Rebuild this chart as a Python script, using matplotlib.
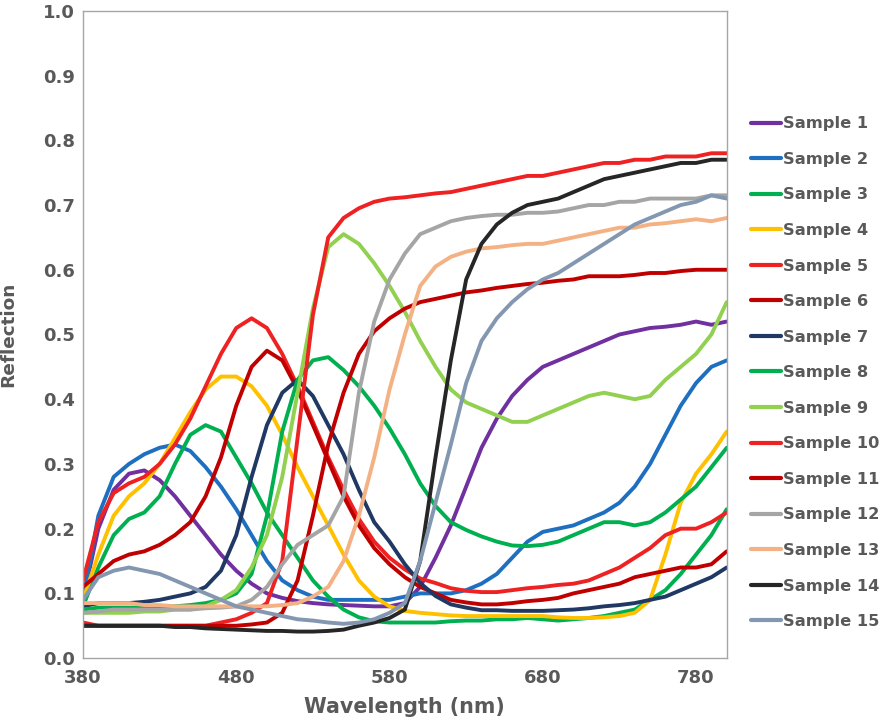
import matplotlib
matplotlib.use("Agg")
import matplotlib.pyplot as plt
import numpy as np

plt.rcParams['font.family'] = ['DejaVu Sans']

# wavelength grid (nm), values every 10 nm
wavelength = np.arange(380, 801, 10)

sample_1 = [0.09, 0.20, 0.26, 0.285, 0.29, 0.275, 0.25, 0.22, 0.19, 0.16, 0.135, 0.115, 0.10, 0.093, 0.088,
            0.085, 0.083, 0.082, 0.081, 0.080, 0.080, 0.085, 0.11, 0.155, 0.205, 0.265, 0.325, 0.37, 0.405, 0.43,
            0.45, 0.46, 0.47, 0.48, 0.49, 0.50, 0.505, 0.51, 0.512, 0.515, 0.52, 0.515, 0.52]
sample_2 = [0.09, 0.22, 0.28, 0.30, 0.315, 0.325, 0.33, 0.32, 0.295, 0.265, 0.23, 0.19, 0.15, 0.12, 0.105,
            0.095, 0.09, 0.09, 0.09, 0.09, 0.09, 0.095, 0.10, 0.10, 0.10, 0.105, 0.115, 0.13, 0.155, 0.18,
            0.195, 0.20, 0.205, 0.215, 0.225, 0.24, 0.265, 0.30, 0.345, 0.39, 0.425, 0.45, 0.46]
sample_3 = [0.08, 0.14, 0.19, 0.215, 0.225, 0.25, 0.30, 0.345, 0.36, 0.35, 0.31, 0.27, 0.225, 0.19, 0.155,
            0.12, 0.095, 0.075, 0.063, 0.057, 0.055, 0.055, 0.055, 0.055, 0.057, 0.058, 0.058, 0.06, 0.06, 0.062,
            0.06, 0.058, 0.06, 0.062, 0.065, 0.07, 0.075, 0.09, 0.105, 0.13, 0.16, 0.19, 0.23]
sample_4 = [0.09, 0.16, 0.22, 0.25, 0.27, 0.30, 0.34, 0.38, 0.415, 0.435, 0.435, 0.42, 0.39, 0.345, 0.295,
            0.25, 0.205, 0.16, 0.12, 0.095, 0.08, 0.073, 0.07, 0.068, 0.066, 0.065, 0.065, 0.065, 0.065, 0.065,
            0.065, 0.063, 0.062, 0.062, 0.063, 0.065, 0.07, 0.09, 0.16, 0.24, 0.285, 0.315, 0.35]
sample_5 = [0.12, 0.21, 0.255, 0.27, 0.28, 0.30, 0.33, 0.37, 0.42, 0.47, 0.51, 0.525, 0.51, 0.47, 0.42,
            0.365, 0.31, 0.26, 0.215, 0.18, 0.155, 0.137, 0.123, 0.116, 0.108, 0.104, 0.102, 0.102, 0.105, 0.108,
            0.11, 0.113, 0.115, 0.12, 0.13, 0.14, 0.155, 0.17, 0.19, 0.20, 0.20, 0.21, 0.225]
sample_6 = [0.11, 0.13, 0.15, 0.16, 0.165, 0.175, 0.19, 0.21, 0.25, 0.31, 0.39, 0.45, 0.475, 0.46, 0.415,
            0.36, 0.305, 0.25, 0.205, 0.17, 0.145, 0.125, 0.11, 0.10, 0.09, 0.086, 0.083, 0.083, 0.085, 0.088,
            0.09, 0.093, 0.10, 0.105, 0.11, 0.115, 0.125, 0.13, 0.135, 0.14, 0.14, 0.145, 0.165]
sample_7 = [0.08, 0.085, 0.085, 0.085, 0.087, 0.09, 0.095, 0.10, 0.11, 0.135, 0.19, 0.28, 0.36, 0.41, 0.43,
            0.405, 0.36, 0.315, 0.26, 0.21, 0.18, 0.145, 0.116, 0.096, 0.083, 0.078, 0.074, 0.074, 0.073, 0.073,
            0.073, 0.074, 0.075, 0.077, 0.08, 0.082, 0.085, 0.09, 0.095, 0.105, 0.115, 0.125, 0.14]
sample_8 = [0.075, 0.078, 0.078, 0.078, 0.078, 0.08, 0.08, 0.082, 0.085, 0.09, 0.10, 0.13, 0.22, 0.35, 0.43,
            0.46, 0.465, 0.445, 0.42, 0.39, 0.355, 0.315, 0.27, 0.235, 0.21, 0.198, 0.188, 0.18, 0.174, 0.173,
            0.175, 0.18, 0.19, 0.20, 0.21, 0.21, 0.205, 0.21, 0.225, 0.245, 0.265, 0.295, 0.325]
sample_9 = [0.07, 0.07, 0.07, 0.07, 0.072, 0.072, 0.075, 0.075, 0.08, 0.09, 0.105, 0.14, 0.19, 0.28, 0.41,
            0.54, 0.635, 0.655, 0.64, 0.61, 0.575, 0.535, 0.49, 0.45, 0.415, 0.395, 0.385, 0.375, 0.365, 0.365,
            0.375, 0.385, 0.395, 0.405, 0.41, 0.405, 0.40, 0.405, 0.43, 0.45, 0.47, 0.50, 0.55]
sample_10 = [0.055, 0.05, 0.05, 0.05, 0.05, 0.05, 0.05, 0.05, 0.05, 0.055, 0.06, 0.07, 0.085, 0.15, 0.34,
             0.53, 0.65, 0.68, 0.695, 0.705, 0.71, 0.712, 0.715, 0.718, 0.72, 0.725, 0.73, 0.735, 0.74, 0.745,
             0.745, 0.75, 0.755, 0.76, 0.765, 0.765, 0.77, 0.77, 0.775, 0.775, 0.775, 0.78, 0.78]
sample_11 = [0.05, 0.05, 0.05, 0.05, 0.05, 0.05, 0.05, 0.05, 0.05, 0.05, 0.05, 0.052, 0.055, 0.07, 0.12,
             0.22, 0.33, 0.41, 0.47, 0.505, 0.525, 0.54, 0.55, 0.555, 0.56, 0.565, 0.568, 0.572, 0.575, 0.578,
             0.58, 0.583, 0.585, 0.59, 0.59, 0.59, 0.592, 0.595, 0.595, 0.598, 0.60, 0.60, 0.60]
sample_12 = [0.07, 0.072, 0.075, 0.075, 0.075, 0.075, 0.075, 0.075, 0.077, 0.078, 0.08, 0.09, 0.11, 0.145, 0.175,
             0.19, 0.205, 0.25, 0.41, 0.52, 0.585, 0.625, 0.655, 0.665, 0.675, 0.68, 0.683, 0.685, 0.685, 0.688,
             0.688, 0.69, 0.695, 0.70, 0.70, 0.705, 0.705, 0.71, 0.71, 0.71, 0.71, 0.715, 0.715]
sample_13 = [0.085, 0.085, 0.085, 0.085, 0.082, 0.082, 0.08, 0.08, 0.08, 0.08, 0.08, 0.08, 0.08, 0.082, 0.085,
             0.095, 0.11, 0.15, 0.22, 0.31, 0.415, 0.50, 0.575, 0.605, 0.62, 0.628, 0.633, 0.635, 0.638, 0.64,
             0.64, 0.645, 0.65, 0.655, 0.66, 0.665, 0.665, 0.67, 0.672, 0.675, 0.678, 0.675, 0.68]
sample_14 = [0.05, 0.05, 0.05, 0.05, 0.05, 0.05, 0.048, 0.048, 0.046, 0.045, 0.044, 0.043, 0.042, 0.042, 0.041,
             0.041, 0.042, 0.044, 0.05, 0.055, 0.062, 0.075, 0.15, 0.31, 0.46, 0.585, 0.64, 0.67, 0.688, 0.70,
             0.705, 0.71, 0.72, 0.73, 0.74, 0.745, 0.75, 0.755, 0.76, 0.765, 0.765, 0.77, 0.77]
sample_15 = [0.09, 0.125, 0.135, 0.14, 0.135, 0.13, 0.12, 0.11, 0.10, 0.09, 0.08, 0.075, 0.07, 0.065, 0.06,
             0.058, 0.055, 0.053, 0.055, 0.06, 0.07, 0.085, 0.15, 0.24, 0.33, 0.425, 0.49, 0.525, 0.55, 0.57,
             0.585, 0.595, 0.61, 0.625, 0.64, 0.655, 0.67, 0.68, 0.69, 0.70, 0.705, 0.715, 0.71]

series = [sample_1, sample_2, sample_3, sample_4, sample_5, sample_6, sample_7, sample_8,
          sample_9, sample_10, sample_11, sample_12, sample_13, sample_14, sample_15]
labels = ["Sample %d" % (i + 1) for i in range(len(series))]
colors = ["#7030A0", "#1F6FC0", "#00B050", "#FFC000", "#EE2222", "#C00000", "#203864", "#00B050",
          "#92D050", "#EE2222", "#C00000", "#A5A5A5", "#F4B183", "#262626", "#8497B0"]

text_color = "#595959"

fig = plt.figure(figsize=(8.83, 7.24), dpi=100)
ax = fig.add_axes([0.094, 0.091, 0.729, 0.894])

for vals, lab, col in zip(series, labels, colors):
    ax.plot(wavelength, vals, color=col, lw=2.8, label=lab, solid_capstyle='round')

ax.set_xlim(380, 800)
ax.set_ylim(0, 1.0)
ax.set_xticks([380, 480, 580, 680, 780])
ax.set_yticks(np.arange(0, 1.01, 0.1))
ax.set_yticklabels(["%.1f" % v for v in np.arange(0, 1.01, 0.1)])
ax.tick_params(length=0, labelsize=13, colors=text_color)
ax.tick_params(axis='y', pad=6)
ax.tick_params(axis='x', pad=8)
for lab in ax.get_xticklabels() + ax.get_yticklabels():
    lab.set_fontweight('bold')
for sp in ax.spines.values():
    sp.set_color("#A6A6A6")
    sp.set_linewidth(1.0)

ax.set_xlabel("Wavelength (nm)", fontsize=14.9, fontweight='bold', color=text_color, labelpad=7)
ax.set_ylabel("Reflection", fontsize=13.3, fontweight='bold', color=text_color, labelpad=18)

leg = ax.legend(loc='center left', bbox_to_anchor=(1.015, 0.441), frameon=False,
                handlelength=1.85, handletextpad=0.1, labelspacing=1.265,
                prop={'size': 11.7, 'weight': 'bold'})
for t in leg.get_texts():
    t.set_color(text_color)
for h in leg.get_lines():
    h.set_linewidth(3)

fig.savefig("out.png", dpi=100)
